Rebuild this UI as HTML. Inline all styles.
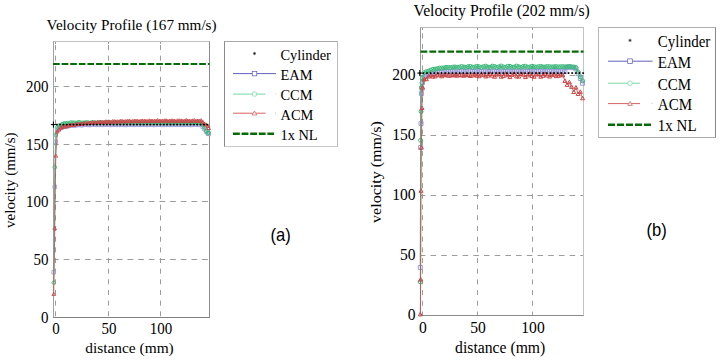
<!DOCTYPE html>
<html><head><meta charset="utf-8"><style>
html,body{margin:0;padding:0;background:#fff;width:720px;height:360px;overflow:hidden}
svg{display:block}
text{font-family:"Liberation Serif",serif;fill:#000}
text.sans{font-family:"Liberation Sans",sans-serif}
</style></head><body>
<svg width="720" height="360" viewBox="0 0 720 360">
<rect width="720" height="360" fill="#fff"/>
<line x1="55.5" y1="41.5" x2="55.5" y2="317.5" stroke="#9c9c9c" stroke-width="1" stroke-dasharray="5 5.65" stroke-dashoffset="7.15"/>
<line x1="108.5" y1="41.5" x2="108.5" y2="317.5" stroke="#9c9c9c" stroke-width="1" stroke-dasharray="5 5.65" stroke-dashoffset="7.15"/>
<line x1="160.5" y1="41.5" x2="160.5" y2="317.5" stroke="#9c9c9c" stroke-width="1" stroke-dasharray="5 5.65" stroke-dashoffset="7.15"/>
<line x1="55.5" y1="41.5" x2="55.5" y2="44.0" stroke="#9c9c9c" stroke-width="1"/>
<line x1="108.5" y1="41.5" x2="108.5" y2="44.0" stroke="#9c9c9c" stroke-width="1"/>
<line x1="160.5" y1="41.5" x2="160.5" y2="44.0" stroke="#9c9c9c" stroke-width="1"/>
<line x1="53.5" y1="317.5" x2="209.5" y2="317.5" stroke="#9c9c9c" stroke-width="1" stroke-dasharray="5.8 4.85" stroke-dashoffset="0.55"/>
<line x1="53.5" y1="259.5" x2="209.5" y2="259.5" stroke="#9c9c9c" stroke-width="1" stroke-dasharray="5.8 4.85" stroke-dashoffset="0.55"/>
<line x1="53.5" y1="201.5" x2="209.5" y2="201.5" stroke="#9c9c9c" stroke-width="1" stroke-dasharray="5.8 4.85" stroke-dashoffset="0.55"/>
<line x1="53.5" y1="144.5" x2="209.5" y2="144.5" stroke="#9c9c9c" stroke-width="1" stroke-dasharray="5.8 4.85" stroke-dashoffset="0.55"/>
<line x1="53.5" y1="86.5" x2="209.5" y2="86.5" stroke="#9c9c9c" stroke-width="1" stroke-dasharray="5.8 4.85" stroke-dashoffset="0.55"/>
<line x1="53.0" y1="41.5" x2="210.0" y2="41.5" stroke="#c0c0c0"/>
<line x1="53.0" y1="317.5" x2="210.0" y2="317.5" stroke="#7f7f7f"/>
<line x1="53.5" y1="41.5" x2="53.5" y2="317.5" stroke="#a0a0a0"/>
<line x1="209.5" y1="41.5" x2="209.5" y2="317.5" stroke="#8a8a8a"/>
<line x1="53.05" y1="64.0" x2="209.5" y2="64.0" stroke="#066a06" stroke-width="2.2" stroke-dasharray="6.6 2.0"/>
<polyline points="53.71,272.22 54.75,186.88 55.8,141.9 57.37,129.36 59.04,128.6 60.71,127.96 62.38,127.21 64.06,126.42 65.73,126.54 67.4,126.14 69.07,125.83 70.74,125.39 72.42,125.23 74.09,125.57 75.76,125.1 77.43,124.97 79.1,124.77 80.78,124.97 82.45,125.12 84.12,124.59 85.79,124.69 87.46,124.66 89.14,124.94 90.81,124.77 92.48,124.36 94.15,124.71 95.82,124.7 97.5,124.85 99.17,124.48 100.84,124.39 102.51,124.84 104.18,124.67 105.86,124.69 107.53,124.34 109.2,124.6 110.87,124.88 112.54,124.54 114.22,124.55 115.89,124.38 117.56,124.82 119.23,124.77 120.9,124.4 122.58,124.55 124.25,124.54 125.92,124.91 127.59,124.53 129.26,124.37 130.94,124.66 132.61,124.67 134.28,124.82 135.95,124.32 137.62,124.5 139.3,124.78 140.97,124.67 142.64,124.64 144.31,124.27 145.98,124.74 147.66,124.78 149.33,124.55 151,124.5 152.67,124.4 154.34,124.91 156.02,124.63 157.69,124.45 159.36,124.51 161.03,124.6 162.7,124.92 164.38,124.4 166.05,124.47 167.72,124.62 169.39,124.73 171.06,124.75 172.74,124.26 174.41,124.63 176.08,124.72 177.75,124.72 179.42,124.54 181.1,124.3 182.77,124.83 184.44,124.69 186.11,124.6 187.78,124.42 189.46,124.5 191.13,124.94 192.8,124.52 194.47,124.51 196.14,124.45 197.82,124.72 199.49,124.85 201.16,124.48 202.83,126.9 204.5,129.15 206.18,131.61 207.85,133.62 208.68,133.83" fill="none" stroke="#a4a4dc" stroke-width="0.8"/>
<path d="M51.91,270.42h3.6v3.6h-3.6zM52.95,185.08h3.6v3.6h-3.6zM54,140.1h3.6v3.6h-3.6zM55.57,127.56h3.6v3.6h-3.6zM57.24,126.8h3.6v3.6h-3.6zM58.91,126.16h3.6v3.6h-3.6zM60.58,125.41h3.6v3.6h-3.6zM62.26,124.62h3.6v3.6h-3.6zM63.93,124.74h3.6v3.6h-3.6zM65.6,124.34h3.6v3.6h-3.6zM67.27,124.03h3.6v3.6h-3.6zM68.94,123.59h3.6v3.6h-3.6zM70.62,123.43h3.6v3.6h-3.6zM72.29,123.77h3.6v3.6h-3.6zM73.96,123.3h3.6v3.6h-3.6zM75.63,123.17h3.6v3.6h-3.6zM77.3,122.97h3.6v3.6h-3.6zM78.98,123.17h3.6v3.6h-3.6zM80.65,123.32h3.6v3.6h-3.6zM82.32,122.79h3.6v3.6h-3.6zM83.99,122.89h3.6v3.6h-3.6zM85.66,122.86h3.6v3.6h-3.6zM87.34,123.14h3.6v3.6h-3.6zM89.01,122.97h3.6v3.6h-3.6zM90.68,122.56h3.6v3.6h-3.6zM92.35,122.91h3.6v3.6h-3.6zM94.02,122.9h3.6v3.6h-3.6zM95.7,123.05h3.6v3.6h-3.6zM97.37,122.68h3.6v3.6h-3.6zM99.04,122.59h3.6v3.6h-3.6zM100.71,123.04h3.6v3.6h-3.6zM102.38,122.87h3.6v3.6h-3.6zM104.06,122.89h3.6v3.6h-3.6zM105.73,122.54h3.6v3.6h-3.6zM107.4,122.8h3.6v3.6h-3.6zM109.07,123.08h3.6v3.6h-3.6zM110.74,122.74h3.6v3.6h-3.6zM112.42,122.75h3.6v3.6h-3.6zM114.09,122.58h3.6v3.6h-3.6zM115.76,123.02h3.6v3.6h-3.6zM117.43,122.97h3.6v3.6h-3.6zM119.1,122.6h3.6v3.6h-3.6zM120.78,122.75h3.6v3.6h-3.6zM122.45,122.74h3.6v3.6h-3.6zM124.12,123.11h3.6v3.6h-3.6zM125.79,122.73h3.6v3.6h-3.6zM127.46,122.57h3.6v3.6h-3.6zM129.14,122.86h3.6v3.6h-3.6zM130.81,122.87h3.6v3.6h-3.6zM132.48,123.02h3.6v3.6h-3.6zM134.15,122.52h3.6v3.6h-3.6zM135.82,122.7h3.6v3.6h-3.6zM137.5,122.98h3.6v3.6h-3.6zM139.17,122.87h3.6v3.6h-3.6zM140.84,122.84h3.6v3.6h-3.6zM142.51,122.47h3.6v3.6h-3.6zM144.18,122.94h3.6v3.6h-3.6zM145.86,122.98h3.6v3.6h-3.6zM147.53,122.75h3.6v3.6h-3.6zM149.2,122.7h3.6v3.6h-3.6zM150.87,122.6h3.6v3.6h-3.6zM152.54,123.11h3.6v3.6h-3.6zM154.22,122.83h3.6v3.6h-3.6zM155.89,122.65h3.6v3.6h-3.6zM157.56,122.71h3.6v3.6h-3.6zM159.23,122.8h3.6v3.6h-3.6zM160.9,123.12h3.6v3.6h-3.6zM162.58,122.6h3.6v3.6h-3.6zM164.25,122.67h3.6v3.6h-3.6zM165.92,122.82h3.6v3.6h-3.6zM167.59,122.93h3.6v3.6h-3.6zM169.26,122.95h3.6v3.6h-3.6zM170.94,122.46h3.6v3.6h-3.6zM172.61,122.83h3.6v3.6h-3.6zM174.28,122.92h3.6v3.6h-3.6zM175.95,122.92h3.6v3.6h-3.6zM177.62,122.74h3.6v3.6h-3.6zM179.3,122.5h3.6v3.6h-3.6zM180.97,123.03h3.6v3.6h-3.6zM182.64,122.89h3.6v3.6h-3.6zM184.31,122.8h3.6v3.6h-3.6zM185.98,122.62h3.6v3.6h-3.6zM187.66,122.7h3.6v3.6h-3.6zM189.33,123.14h3.6v3.6h-3.6zM191,122.72h3.6v3.6h-3.6zM192.67,122.71h3.6v3.6h-3.6zM194.34,122.65h3.6v3.6h-3.6zM196.02,122.92h3.6v3.6h-3.6zM197.69,123.05h3.6v3.6h-3.6zM199.36,122.68h3.6v3.6h-3.6zM201.03,125.1h3.6v3.6h-3.6zM202.7,127.35h3.6v3.6h-3.6zM204.38,129.81h3.6v3.6h-3.6zM206.05,131.82h3.6v3.6h-3.6zM206.88,132.03h3.6v3.6h-3.6z" fill="none" stroke="#a4a4dc" stroke-width="0.9"/>
<polyline points="53.71,282.6 54.75,167.27 55.8,134.98 57.37,127.25 59.04,125.63 60.71,125.22 62.38,124.04 64.06,123.38 65.73,123.2 67.4,123.14 69.07,123.32 70.74,122.51 72.42,122.63 74.09,122.8 75.76,122.89 77.43,122.81 79.1,122.2 80.78,122.77 82.45,122.82 84.12,122.76 85.79,122.51 87.46,122.3 89.14,123.01 90.81,122.71 92.48,122.59 94.15,122.4 95.82,122.59 97.5,123.08 99.17,122.47 100.84,122.51 102.51,122.49 104.18,122.85 105.86,122.91 107.53,122.25 109.2,122.61 110.87,122.66 112.54,122.93 114.22,122.59 115.89,122.23 117.56,122.84 119.23,122.74 120.9,122.81 122.58,122.34 124.25,122.45 125.92,123.02 127.59,122.63 129.26,122.62 130.94,122.3 132.61,122.78 134.28,122.98 135.95,122.42 137.62,122.55 139.3,122.46 140.97,123 142.64,122.72 144.31,122.29 145.98,122.65 147.66,122.67 149.33,123 151,122.4 152.67,122.38 154.34,122.84 156.02,122.74 157.69,122.8 159.36,122.22 161.03,122.65 162.7,122.94 164.38,122.63 166.05,122.58 167.72,122.28 169.39,122.96 171.06,122.82 172.74,122.46 174.41,122.51 176.08,122.52 177.75,123.09 179.42,122.53 181.1,122.4 182.77,122.62 184.44,122.74 186.11,122.97 187.78,122.26 189.46,122.54 191.13,122.78 192.8,122.8 194.47,122.7 196.14,122.18 197.82,122.83 199.49,122.82 201.16,122.85 202.83,125.21 204.5,127.69 206.18,130.97 207.85,133.16 208.68,132.67" fill="none" stroke="#40b878" stroke-width="0.8"/>
<path d="M51.91,282.6a1.8,1.8 0 1,0 3.6,0a1.8,1.8 0 1,0 -3.6,0M52.95,167.27a1.8,1.8 0 1,0 3.6,0a1.8,1.8 0 1,0 -3.6,0M54,134.98a1.8,1.8 0 1,0 3.6,0a1.8,1.8 0 1,0 -3.6,0M55.57,127.25a1.8,1.8 0 1,0 3.6,0a1.8,1.8 0 1,0 -3.6,0M57.24,125.63a1.8,1.8 0 1,0 3.6,0a1.8,1.8 0 1,0 -3.6,0M58.91,125.22a1.8,1.8 0 1,0 3.6,0a1.8,1.8 0 1,0 -3.6,0M60.58,124.04a1.8,1.8 0 1,0 3.6,0a1.8,1.8 0 1,0 -3.6,0M62.26,123.38a1.8,1.8 0 1,0 3.6,0a1.8,1.8 0 1,0 -3.6,0M63.93,123.2a1.8,1.8 0 1,0 3.6,0a1.8,1.8 0 1,0 -3.6,0M65.6,123.14a1.8,1.8 0 1,0 3.6,0a1.8,1.8 0 1,0 -3.6,0M67.27,123.32a1.8,1.8 0 1,0 3.6,0a1.8,1.8 0 1,0 -3.6,0M68.94,122.51a1.8,1.8 0 1,0 3.6,0a1.8,1.8 0 1,0 -3.6,0M70.62,122.63a1.8,1.8 0 1,0 3.6,0a1.8,1.8 0 1,0 -3.6,0M72.29,122.8a1.8,1.8 0 1,0 3.6,0a1.8,1.8 0 1,0 -3.6,0M73.96,122.89a1.8,1.8 0 1,0 3.6,0a1.8,1.8 0 1,0 -3.6,0M75.63,122.81a1.8,1.8 0 1,0 3.6,0a1.8,1.8 0 1,0 -3.6,0M77.3,122.2a1.8,1.8 0 1,0 3.6,0a1.8,1.8 0 1,0 -3.6,0M78.98,122.77a1.8,1.8 0 1,0 3.6,0a1.8,1.8 0 1,0 -3.6,0M80.65,122.82a1.8,1.8 0 1,0 3.6,0a1.8,1.8 0 1,0 -3.6,0M82.32,122.76a1.8,1.8 0 1,0 3.6,0a1.8,1.8 0 1,0 -3.6,0M83.99,122.51a1.8,1.8 0 1,0 3.6,0a1.8,1.8 0 1,0 -3.6,0M85.66,122.3a1.8,1.8 0 1,0 3.6,0a1.8,1.8 0 1,0 -3.6,0M87.34,123.01a1.8,1.8 0 1,0 3.6,0a1.8,1.8 0 1,0 -3.6,0M89.01,122.71a1.8,1.8 0 1,0 3.6,0a1.8,1.8 0 1,0 -3.6,0M90.68,122.59a1.8,1.8 0 1,0 3.6,0a1.8,1.8 0 1,0 -3.6,0M92.35,122.4a1.8,1.8 0 1,0 3.6,0a1.8,1.8 0 1,0 -3.6,0M94.02,122.59a1.8,1.8 0 1,0 3.6,0a1.8,1.8 0 1,0 -3.6,0M95.7,123.08a1.8,1.8 0 1,0 3.6,0a1.8,1.8 0 1,0 -3.6,0M97.37,122.47a1.8,1.8 0 1,0 3.6,0a1.8,1.8 0 1,0 -3.6,0M99.04,122.51a1.8,1.8 0 1,0 3.6,0a1.8,1.8 0 1,0 -3.6,0M100.71,122.49a1.8,1.8 0 1,0 3.6,0a1.8,1.8 0 1,0 -3.6,0M102.38,122.85a1.8,1.8 0 1,0 3.6,0a1.8,1.8 0 1,0 -3.6,0M104.06,122.91a1.8,1.8 0 1,0 3.6,0a1.8,1.8 0 1,0 -3.6,0M105.73,122.25a1.8,1.8 0 1,0 3.6,0a1.8,1.8 0 1,0 -3.6,0M107.4,122.61a1.8,1.8 0 1,0 3.6,0a1.8,1.8 0 1,0 -3.6,0M109.07,122.66a1.8,1.8 0 1,0 3.6,0a1.8,1.8 0 1,0 -3.6,0M110.74,122.93a1.8,1.8 0 1,0 3.6,0a1.8,1.8 0 1,0 -3.6,0M112.42,122.59a1.8,1.8 0 1,0 3.6,0a1.8,1.8 0 1,0 -3.6,0M114.09,122.23a1.8,1.8 0 1,0 3.6,0a1.8,1.8 0 1,0 -3.6,0M115.76,122.84a1.8,1.8 0 1,0 3.6,0a1.8,1.8 0 1,0 -3.6,0M117.43,122.74a1.8,1.8 0 1,0 3.6,0a1.8,1.8 0 1,0 -3.6,0M119.1,122.81a1.8,1.8 0 1,0 3.6,0a1.8,1.8 0 1,0 -3.6,0M120.78,122.34a1.8,1.8 0 1,0 3.6,0a1.8,1.8 0 1,0 -3.6,0M122.45,122.45a1.8,1.8 0 1,0 3.6,0a1.8,1.8 0 1,0 -3.6,0M124.12,123.02a1.8,1.8 0 1,0 3.6,0a1.8,1.8 0 1,0 -3.6,0M125.79,122.63a1.8,1.8 0 1,0 3.6,0a1.8,1.8 0 1,0 -3.6,0M127.46,122.62a1.8,1.8 0 1,0 3.6,0a1.8,1.8 0 1,0 -3.6,0M129.14,122.3a1.8,1.8 0 1,0 3.6,0a1.8,1.8 0 1,0 -3.6,0M130.81,122.78a1.8,1.8 0 1,0 3.6,0a1.8,1.8 0 1,0 -3.6,0M132.48,122.98a1.8,1.8 0 1,0 3.6,0a1.8,1.8 0 1,0 -3.6,0M134.15,122.42a1.8,1.8 0 1,0 3.6,0a1.8,1.8 0 1,0 -3.6,0M135.82,122.55a1.8,1.8 0 1,0 3.6,0a1.8,1.8 0 1,0 -3.6,0M137.5,122.46a1.8,1.8 0 1,0 3.6,0a1.8,1.8 0 1,0 -3.6,0M139.17,123a1.8,1.8 0 1,0 3.6,0a1.8,1.8 0 1,0 -3.6,0M140.84,122.72a1.8,1.8 0 1,0 3.6,0a1.8,1.8 0 1,0 -3.6,0M142.51,122.29a1.8,1.8 0 1,0 3.6,0a1.8,1.8 0 1,0 -3.6,0M144.18,122.65a1.8,1.8 0 1,0 3.6,0a1.8,1.8 0 1,0 -3.6,0M145.86,122.67a1.8,1.8 0 1,0 3.6,0a1.8,1.8 0 1,0 -3.6,0M147.53,123a1.8,1.8 0 1,0 3.6,0a1.8,1.8 0 1,0 -3.6,0M149.2,122.4a1.8,1.8 0 1,0 3.6,0a1.8,1.8 0 1,0 -3.6,0M150.87,122.38a1.8,1.8 0 1,0 3.6,0a1.8,1.8 0 1,0 -3.6,0M152.54,122.84a1.8,1.8 0 1,0 3.6,0a1.8,1.8 0 1,0 -3.6,0M154.22,122.74a1.8,1.8 0 1,0 3.6,0a1.8,1.8 0 1,0 -3.6,0M155.89,122.8a1.8,1.8 0 1,0 3.6,0a1.8,1.8 0 1,0 -3.6,0M157.56,122.22a1.8,1.8 0 1,0 3.6,0a1.8,1.8 0 1,0 -3.6,0M159.23,122.65a1.8,1.8 0 1,0 3.6,0a1.8,1.8 0 1,0 -3.6,0M160.9,122.94a1.8,1.8 0 1,0 3.6,0a1.8,1.8 0 1,0 -3.6,0M162.58,122.63a1.8,1.8 0 1,0 3.6,0a1.8,1.8 0 1,0 -3.6,0M164.25,122.58a1.8,1.8 0 1,0 3.6,0a1.8,1.8 0 1,0 -3.6,0M165.92,122.28a1.8,1.8 0 1,0 3.6,0a1.8,1.8 0 1,0 -3.6,0M167.59,122.96a1.8,1.8 0 1,0 3.6,0a1.8,1.8 0 1,0 -3.6,0M169.26,122.82a1.8,1.8 0 1,0 3.6,0a1.8,1.8 0 1,0 -3.6,0M170.94,122.46a1.8,1.8 0 1,0 3.6,0a1.8,1.8 0 1,0 -3.6,0M172.61,122.51a1.8,1.8 0 1,0 3.6,0a1.8,1.8 0 1,0 -3.6,0M174.28,122.52a1.8,1.8 0 1,0 3.6,0a1.8,1.8 0 1,0 -3.6,0M175.95,123.09a1.8,1.8 0 1,0 3.6,0a1.8,1.8 0 1,0 -3.6,0M177.62,122.53a1.8,1.8 0 1,0 3.6,0a1.8,1.8 0 1,0 -3.6,0M179.3,122.4a1.8,1.8 0 1,0 3.6,0a1.8,1.8 0 1,0 -3.6,0M180.97,122.62a1.8,1.8 0 1,0 3.6,0a1.8,1.8 0 1,0 -3.6,0M182.64,122.74a1.8,1.8 0 1,0 3.6,0a1.8,1.8 0 1,0 -3.6,0M184.31,122.97a1.8,1.8 0 1,0 3.6,0a1.8,1.8 0 1,0 -3.6,0M185.98,122.26a1.8,1.8 0 1,0 3.6,0a1.8,1.8 0 1,0 -3.6,0M187.66,122.54a1.8,1.8 0 1,0 3.6,0a1.8,1.8 0 1,0 -3.6,0M189.33,122.78a1.8,1.8 0 1,0 3.6,0a1.8,1.8 0 1,0 -3.6,0M191,122.8a1.8,1.8 0 1,0 3.6,0a1.8,1.8 0 1,0 -3.6,0M192.67,122.7a1.8,1.8 0 1,0 3.6,0a1.8,1.8 0 1,0 -3.6,0M194.34,122.18a1.8,1.8 0 1,0 3.6,0a1.8,1.8 0 1,0 -3.6,0M196.02,122.83a1.8,1.8 0 1,0 3.6,0a1.8,1.8 0 1,0 -3.6,0M197.69,122.82a1.8,1.8 0 1,0 3.6,0a1.8,1.8 0 1,0 -3.6,0M199.36,122.85a1.8,1.8 0 1,0 3.6,0a1.8,1.8 0 1,0 -3.6,0M201.03,125.21a1.8,1.8 0 1,0 3.6,0a1.8,1.8 0 1,0 -3.6,0M202.7,127.69a1.8,1.8 0 1,0 3.6,0a1.8,1.8 0 1,0 -3.6,0M204.38,130.97a1.8,1.8 0 1,0 3.6,0a1.8,1.8 0 1,0 -3.6,0M206.05,133.16a1.8,1.8 0 1,0 3.6,0a1.8,1.8 0 1,0 -3.6,0M206.88,132.67a1.8,1.8 0 1,0 3.6,0a1.8,1.8 0 1,0 -3.6,0" fill="none" stroke="#40b878" stroke-width="0.9"/>
<polyline points="53.71,294.13 54.75,228.4 55.8,155.74 57.37,131.51 59.04,129.72 60.71,127.86 62.38,127.13 64.06,126.54 65.73,126.49 67.4,126.15 69.07,125.17 70.74,125.22 72.42,124.97 74.09,124.99 75.76,124.38 77.43,123.81 79.1,124.19 80.78,123.88 82.45,123.77 84.12,123.1 85.79,123.07 87.46,123.45 89.14,122.93 90.81,122.78 92.48,122.31 94.15,122.69 95.82,122.75 97.5,122.11 99.17,122.12 100.84,121.94 102.51,122.41 104.18,122.02 105.86,121.53 107.53,121.8 109.2,121.75 110.87,122.02 112.54,121.35 114.22,121.29 115.89,121.68 117.56,121.54 119.23,121.55 120.9,120.92 122.58,121.33 124.25,121.55 125.92,121.24 127.59,121.13 129.26,120.8 130.94,121.46 132.61,121.27 134.28,120.91 135.95,120.92 137.62,120.91 139.3,121.46 140.97,120.87 142.64,120.74 144.31,120.92 145.98,121.05 147.66,121.25 149.33,120.52 151,120.8 152.67,121 154.34,121.04 156.02,120.9 157.69,120.39 159.36,121.02 161.03,120.99 162.7,120.87 164.38,120.62 166.05,120.52 167.72,121.21 169.39,120.8 171.06,120.68 172.74,120.55 174.41,120.79 176.08,121.18 177.75,120.51 179.42,120.63 181.1,120.65 182.77,120.99 184.44,120.93 186.11,120.31 187.78,120.76 189.46,120.8 191.13,120.99 192.8,120.6 194.47,120.35 196.14,120.99 197.82,120.8 199.49,120.82 201.16,120.47 202.83,121.98 204.5,123.77 206.18,124.6 207.85,125.89 208.68,128.06" fill="none" stroke="#c84a4a" stroke-width="0.8"/>
<path d="M53.71,292.33L55.51,295.57L51.91,295.57ZM54.75,226.6L56.55,229.84L52.95,229.84ZM55.8,153.94L57.6,157.18L54,157.18ZM57.37,129.71L59.17,132.95L55.57,132.95ZM59.04,127.92L60.84,131.16L57.24,131.16ZM60.71,126.06L62.51,129.3L58.91,129.3ZM62.38,125.33L64.18,128.57L60.58,128.57ZM64.06,124.74L65.86,127.98L62.26,127.98ZM65.73,124.69L67.53,127.93L63.93,127.93ZM67.4,124.35L69.2,127.59L65.6,127.59ZM69.07,123.37L70.87,126.61L67.27,126.61ZM70.74,123.42L72.54,126.66L68.94,126.66ZM72.42,123.17L74.22,126.41L70.62,126.41ZM74.09,123.19L75.89,126.43L72.29,126.43ZM75.76,122.58L77.56,125.82L73.96,125.82ZM77.43,122.01L79.23,125.25L75.63,125.25ZM79.1,122.39L80.9,125.63L77.3,125.63ZM80.78,122.08L82.58,125.32L78.98,125.32ZM82.45,121.97L84.25,125.21L80.65,125.21ZM84.12,121.3L85.92,124.54L82.32,124.54ZM85.79,121.27L87.59,124.51L83.99,124.51ZM87.46,121.65L89.26,124.89L85.66,124.89ZM89.14,121.13L90.94,124.37L87.34,124.37ZM90.81,120.98L92.61,124.22L89.01,124.22ZM92.48,120.51L94.28,123.75L90.68,123.75ZM94.15,120.89L95.95,124.13L92.35,124.13ZM95.82,120.95L97.62,124.19L94.02,124.19ZM97.5,120.31L99.3,123.55L95.7,123.55ZM99.17,120.32L100.97,123.56L97.37,123.56ZM100.84,120.14L102.64,123.38L99.04,123.38ZM102.51,120.61L104.31,123.85L100.71,123.85ZM104.18,120.22L105.98,123.46L102.38,123.46ZM105.86,119.73L107.66,122.97L104.06,122.97ZM107.53,120L109.33,123.24L105.73,123.24ZM109.2,119.95L111,123.19L107.4,123.19ZM110.87,120.22L112.67,123.46L109.07,123.46ZM112.54,119.55L114.34,122.79L110.74,122.79ZM114.22,119.49L116.02,122.73L112.42,122.73ZM115.89,119.88L117.69,123.12L114.09,123.12ZM117.56,119.74L119.36,122.98L115.76,122.98ZM119.23,119.75L121.03,122.99L117.43,122.99ZM120.9,119.12L122.7,122.36L119.1,122.36ZM122.58,119.53L124.38,122.77L120.78,122.77ZM124.25,119.75L126.05,122.99L122.45,122.99ZM125.92,119.44L127.72,122.68L124.12,122.68ZM127.59,119.33L129.39,122.57L125.79,122.57ZM129.26,119L131.06,122.24L127.46,122.24ZM130.94,119.66L132.74,122.9L129.14,122.9ZM132.61,119.47L134.41,122.71L130.81,122.71ZM134.28,119.11L136.08,122.35L132.48,122.35ZM135.95,119.12L137.75,122.36L134.15,122.36ZM137.62,119.11L139.42,122.35L135.82,122.35ZM139.3,119.66L141.1,122.9L137.5,122.9ZM140.97,119.07L142.77,122.31L139.17,122.31ZM142.64,118.94L144.44,122.18L140.84,122.18ZM144.31,119.12L146.11,122.36L142.51,122.36ZM145.98,119.25L147.78,122.49L144.18,122.49ZM147.66,119.45L149.46,122.69L145.86,122.69ZM149.33,118.72L151.13,121.96L147.53,121.96ZM151,119L152.8,122.24L149.2,122.24ZM152.67,119.2L154.47,122.44L150.87,122.44ZM154.34,119.24L156.14,122.48L152.54,122.48ZM156.02,119.1L157.82,122.34L154.22,122.34ZM157.69,118.59L159.49,121.83L155.89,121.83ZM159.36,119.22L161.16,122.46L157.56,122.46ZM161.03,119.19L162.83,122.43L159.23,122.43ZM162.7,119.07L164.5,122.31L160.9,122.31ZM164.38,118.82L166.18,122.06L162.58,122.06ZM166.05,118.72L167.85,121.96L164.25,121.96ZM167.72,119.41L169.52,122.65L165.92,122.65ZM169.39,119L171.19,122.24L167.59,122.24ZM171.06,118.88L172.86,122.12L169.26,122.12ZM172.74,118.75L174.54,121.99L170.94,121.99ZM174.41,118.99L176.21,122.23L172.61,122.23ZM176.08,119.38L177.88,122.62L174.28,122.62ZM177.75,118.71L179.55,121.95L175.95,121.95ZM179.42,118.83L181.22,122.07L177.62,122.07ZM181.1,118.85L182.9,122.09L179.3,122.09ZM182.77,119.19L184.57,122.43L180.97,122.43ZM184.44,119.13L186.24,122.37L182.64,122.37ZM186.11,118.51L187.91,121.75L184.31,121.75ZM187.78,118.96L189.58,122.2L185.98,122.2ZM189.46,119L191.26,122.24L187.66,122.24ZM191.13,119.19L192.93,122.43L189.33,122.43ZM192.8,118.8L194.6,122.04L191,122.04ZM194.47,118.55L196.27,121.79L192.67,121.79ZM196.14,119.19L197.94,122.43L194.34,122.43ZM197.82,119L199.62,122.24L196.02,122.24ZM199.49,119.02L201.29,122.26L197.69,122.26ZM201.16,118.67L202.96,121.91L199.36,121.91ZM202.83,120.18L204.63,123.42L201.03,123.42ZM204.5,121.97L206.3,125.21L202.7,125.21ZM206.18,122.8L207.98,126.04L204.38,126.04ZM207.85,124.09L209.65,127.33L206.05,127.33ZM208.68,126.26L210.48,129.5L206.88,129.5Z" fill="none" stroke="#c84a4a" stroke-width="0.9"/>
<path d="M52.4,124.6h2M53.4,123.7v1.8M55.74,124.6h2M56.74,123.7v1.8M59.08,124.6h2M60.08,123.7v1.8M62.43,124.6h2M63.43,123.7v1.8M65.77,124.6h2M66.77,123.7v1.8M69.12,124.6h2M70.12,123.7v1.8M72.46,124.6h2M73.46,123.7v1.8M75.8,124.6h2M76.8,123.7v1.8M79.15,124.6h2M80.15,123.7v1.8M82.49,124.6h2M83.49,123.7v1.8M85.84,124.6h2M86.84,123.7v1.8M89.18,124.6h2M90.18,123.7v1.8M92.52,124.6h2M93.52,123.7v1.8M95.87,124.6h2M96.87,123.7v1.8M99.21,124.6h2M100.21,123.7v1.8M102.56,124.6h2M103.56,123.7v1.8M105.9,124.6h2M106.9,123.7v1.8M109.24,124.6h2M110.24,123.7v1.8M112.59,124.6h2M113.59,123.7v1.8M115.93,124.6h2M116.93,123.7v1.8M119.28,124.6h2M120.28,123.7v1.8M122.62,124.6h2M123.62,123.7v1.8M125.96,124.6h2M126.96,123.7v1.8M129.31,124.6h2M130.31,123.7v1.8M132.65,124.6h2M133.65,123.7v1.8M136,124.6h2M137,123.7v1.8M139.34,124.6h2M140.34,123.7v1.8M142.68,124.6h2M143.68,123.7v1.8M146.03,124.6h2M147.03,123.7v1.8M149.37,124.6h2M150.37,123.7v1.8M152.72,124.6h2M153.72,123.7v1.8M156.06,124.6h2M157.06,123.7v1.8M159.4,124.6h2M160.4,123.7v1.8M162.75,124.6h2M163.75,123.7v1.8M166.09,124.6h2M167.09,123.7v1.8M169.44,124.6h2M170.44,123.7v1.8M172.78,124.6h2M173.78,123.7v1.8M176.12,124.6h2M177.12,123.7v1.8M179.47,124.6h2M180.47,123.7v1.8M182.81,124.6h2M183.81,123.7v1.8M186.16,124.6h2M187.16,123.7v1.8M189.5,124.6h2M190.5,123.7v1.8M192.84,124.6h2M193.84,123.7v1.8M196.19,124.6h2M197.19,123.7v1.8M199.53,124.6h2M200.53,123.7v1.8M202.88,124.6h2M203.88,123.7v1.8M206.22,124.6h2M207.22,123.7v1.8" stroke="#000" stroke-width="1" fill="none"/>
<path d="M50.9,124.6h5M53.4,121.6v6" stroke="#000" stroke-width="1"/>
<text transform="translate(48.5,322.6) scale(1,1.06)" text-anchor="end" font-size="15">0</text>
<text transform="translate(48.5,264.6) scale(1,1.06)" text-anchor="end" font-size="15">50</text>
<text transform="translate(48.5,206.6) scale(1,1.06)" text-anchor="end" font-size="15">100</text>
<text transform="translate(48.5,149.6) scale(1,1.06)" text-anchor="end" font-size="15">150</text>
<text transform="translate(48.5,91.6) scale(1,1.06)" text-anchor="end" font-size="15">200</text>
<text transform="translate(56,333.8) scale(1,1.06)" text-anchor="middle" font-size="15">0</text>
<text transform="translate(109,333.8) scale(1,1.06)" text-anchor="middle" font-size="15">50</text>
<text transform="translate(161,333.8) scale(1,1.06)" text-anchor="middle" font-size="15">100</text>
<text x="46.6" y="30" font-size="15.2">Velocity Profile (167 mm/s)</text>
<text x="129.5" y="353.3" text-anchor="middle" font-size="15.4">distance (mm)</text>
<text transform="translate(14.9,180.2) rotate(-90) scale(1.0,1)" text-anchor="middle" font-size="15.0">velocity (mm/s)</text>
<rect x="224.5" y="41.5" width="113.0" height="105.0" fill="#fff" stroke="none"/>
<line x1="224.0" y1="41.5" x2="338.0" y2="41.5" stroke="#a8a8a8"/>
<line x1="224.0" y1="146.5" x2="338.0" y2="146.5" stroke="#c8c8c8"/>
<line x1="224.5" y1="41.5" x2="224.5" y2="146.5" stroke="#8a8a8a"/>
<line x1="337.5" y1="41.5" x2="337.5" y2="146.5" stroke="#bcbcbc"/>
<path d="M253.1,53.5h2.8M254.5,51.9v3.2M253.5,52.5l2,2M255.5,52.5l-2,2" stroke="#222" stroke-width="0.7"/>
<text transform="translate(280.5,59.8) scale(1,1.08)" font-size="14.4">Cylinder</text>
<line x1="233" y1="73.6" x2="276" y2="73.6" stroke="#6262bc" stroke-width="1"/>
<rect x="252.25" y="71.35" width="4.5" height="4.5" fill="#fff" stroke="#6262bc" stroke-width="0.75"/>
<text transform="translate(280.5,79.9) scale(1,1.08)" font-size="14.4">EAM</text>
<line x1="233" y1="94.1" x2="265.5" y2="94.1" stroke="#7ad8a4" stroke-width="1"/>
<rect x="275" y="93.6" width="1" height="1" fill="#7ad8a4" opacity="0.5"/>
<circle cx="254.5" cy="94.1" r="2.25" fill="#fff" stroke="#7ad8a4" stroke-width="0.75"/>
<text transform="translate(280.5,100.4) scale(1,1.08)" font-size="14.4">CCM</text>
<line x1="233" y1="113.2" x2="265.5" y2="113.2" stroke="#d86262" stroke-width="1"/>
<rect x="275" y="112.7" width="1" height="1" fill="#d86262" opacity="0.5"/>
<path d="M254.5,110.95L256.75,115.0L252.25,115.0Z" fill="#fff" stroke="#d86262" stroke-width="0.75"/>
<text transform="translate(280.5,119.5) scale(1,1.08)" font-size="14.4">ACM</text>
<line x1="233" y1="133.8" x2="274" y2="133.8" stroke="#066a06" stroke-width="2.4" stroke-dasharray="6.8 1.8"/>
<text transform="translate(280.5,140.1) scale(1,1.08)" font-size="14.4">1x NL</text>
<text class="sans" transform="translate(270.5,241.0) scale(1,1.08)" font-size="16.6">(a)</text>
<line x1="422.5" y1="27.5" x2="422.5" y2="315.5" stroke="#9c9c9c" stroke-width="1" stroke-dasharray="5 5.7" stroke-dashoffset="-5.8"/>
<line x1="477.5" y1="27.5" x2="477.5" y2="315.5" stroke="#9c9c9c" stroke-width="1" stroke-dasharray="5 5.7" stroke-dashoffset="-5.8"/>
<line x1="532.5" y1="27.5" x2="532.5" y2="315.5" stroke="#9c9c9c" stroke-width="1" stroke-dasharray="5 5.7" stroke-dashoffset="-5.8"/>
<line x1="422.5" y1="27.5" x2="422.5" y2="30.0" stroke="#9c9c9c" stroke-width="1"/>
<line x1="477.5" y1="27.5" x2="477.5" y2="30.0" stroke="#9c9c9c" stroke-width="1"/>
<line x1="532.5" y1="27.5" x2="532.5" y2="30.0" stroke="#9c9c9c" stroke-width="1"/>
<line x1="420.5" y1="315.5" x2="583.5" y2="315.5" stroke="#9c9c9c" stroke-width="1" stroke-dasharray="5.6 5.1" stroke-dashoffset="-10"/>
<line x1="420.5" y1="255.5" x2="583.5" y2="255.5" stroke="#9c9c9c" stroke-width="1" stroke-dasharray="5.6 5.1" stroke-dashoffset="-10"/>
<line x1="420.5" y1="195.5" x2="583.5" y2="195.5" stroke="#9c9c9c" stroke-width="1" stroke-dasharray="5.6 5.1" stroke-dashoffset="-10"/>
<line x1="420.5" y1="135.5" x2="583.5" y2="135.5" stroke="#9c9c9c" stroke-width="1" stroke-dasharray="5.6 5.1" stroke-dashoffset="-10"/>
<line x1="420.5" y1="75.5" x2="583.5" y2="75.5" stroke="#9c9c9c" stroke-width="1" stroke-dasharray="5.6 5.1" stroke-dashoffset="-10"/>
<line x1="420.0" y1="27.5" x2="584.0" y2="27.5" stroke="#b8b8b8"/>
<line x1="420.0" y1="315.5" x2="584.0" y2="315.5" stroke="#8a8a8a"/>
<line x1="420.5" y1="27.5" x2="420.5" y2="315.5" stroke="#999999"/>
<line x1="583.5" y1="27.5" x2="583.5" y2="315.5" stroke="#c4c4c4"/>
<line x1="420.5" y1="51.6" x2="583.5" y2="51.6" stroke="#066a06" stroke-width="2.2" stroke-dasharray="6.8 2.1"/>
<polyline points="420.3,267.5 420.63,147.5 421.07,123.5 421.4,93.5 421.95,88.7 422.5,82.7 424.15,77.13 426.35,76.25 428.55,74.67 430.75,73.61 432.95,73.66 435.15,73.19 437.35,72.1 439.55,72.06 441.75,72.46 443.95,71.8 446.15,71.2 448.35,71.74 450.55,71.88 452.75,71.09 454.95,71.09 457.15,71.73 459.35,71.41 461.55,70.83 463.75,71.29 465.95,71.63 468.15,71.04 470.35,70.91 472.55,71.48 474.75,71.37 476.95,70.89 479.15,71.15 481.35,71.47 483.55,71.11 485.75,70.97 487.95,71.33 490.15,71.3 492.35,71.02 494.55,71.17 496.75,71.31 498.95,71.12 501.15,71.12 503.35,71.28 505.55,71.16 507.75,71.1 509.95,71.29 512.15,71.2 514.35,71.03 516.55,71.25 518.75,71.34 520.95,71.01 523.15,71.07 525.35,71.44 527.55,71.19 529.75,70.87 531.95,71.3 534.15,71.48 536.35,70.93 538.55,70.95 540.75,71.54 542.95,71.28 545.15,70.75 547.35,71.23 549.55,71.61 551.75,70.97 553.95,70.81 556.15,71.53 558.35,71.42 560.55,70.73 562.75,71.1 564.95,71.66 567.15,67.25 569.35,66.9 571.55,67.59 573.75,67.68 575.95,68.9 578.15,73.7 580.35,78.5 582.55,83.3" fill="none" stroke="#9c9cdc" stroke-width="0.8"/>
<path d="M418.3,265.5h4.0v4.0h-4.0zM418.63,145.5h4.0v4.0h-4.0zM419.07,121.5h4.0v4.0h-4.0zM419.4,91.5h4.0v4.0h-4.0zM419.95,86.7h4.0v4.0h-4.0zM420.5,80.7h4.0v4.0h-4.0zM422.15,75.13h4.0v4.0h-4.0zM424.35,74.25h4.0v4.0h-4.0zM426.55,72.67h4.0v4.0h-4.0zM428.75,71.61h4.0v4.0h-4.0zM430.95,71.66h4.0v4.0h-4.0zM433.15,71.19h4.0v4.0h-4.0zM435.35,70.1h4.0v4.0h-4.0zM437.55,70.06h4.0v4.0h-4.0zM439.75,70.46h4.0v4.0h-4.0zM441.95,69.8h4.0v4.0h-4.0zM444.15,69.2h4.0v4.0h-4.0zM446.35,69.74h4.0v4.0h-4.0zM448.55,69.88h4.0v4.0h-4.0zM450.75,69.09h4.0v4.0h-4.0zM452.95,69.09h4.0v4.0h-4.0zM455.15,69.73h4.0v4.0h-4.0zM457.35,69.41h4.0v4.0h-4.0zM459.55,68.83h4.0v4.0h-4.0zM461.75,69.29h4.0v4.0h-4.0zM463.95,69.63h4.0v4.0h-4.0zM466.15,69.04h4.0v4.0h-4.0zM468.35,68.91h4.0v4.0h-4.0zM470.55,69.48h4.0v4.0h-4.0zM472.75,69.37h4.0v4.0h-4.0zM474.95,68.89h4.0v4.0h-4.0zM477.15,69.15h4.0v4.0h-4.0zM479.35,69.47h4.0v4.0h-4.0zM481.55,69.11h4.0v4.0h-4.0zM483.75,68.97h4.0v4.0h-4.0zM485.95,69.33h4.0v4.0h-4.0zM488.15,69.3h4.0v4.0h-4.0zM490.35,69.02h4.0v4.0h-4.0zM492.55,69.17h4.0v4.0h-4.0zM494.75,69.31h4.0v4.0h-4.0zM496.95,69.12h4.0v4.0h-4.0zM499.15,69.12h4.0v4.0h-4.0zM501.35,69.28h4.0v4.0h-4.0zM503.55,69.16h4.0v4.0h-4.0zM505.75,69.1h4.0v4.0h-4.0zM507.95,69.29h4.0v4.0h-4.0zM510.15,69.2h4.0v4.0h-4.0zM512.35,69.03h4.0v4.0h-4.0zM514.55,69.25h4.0v4.0h-4.0zM516.75,69.34h4.0v4.0h-4.0zM518.95,69.01h4.0v4.0h-4.0zM521.15,69.07h4.0v4.0h-4.0zM523.35,69.44h4.0v4.0h-4.0zM525.55,69.19h4.0v4.0h-4.0zM527.75,68.87h4.0v4.0h-4.0zM529.95,69.3h4.0v4.0h-4.0zM532.15,69.48h4.0v4.0h-4.0zM534.35,68.93h4.0v4.0h-4.0zM536.55,68.95h4.0v4.0h-4.0zM538.75,69.54h4.0v4.0h-4.0zM540.95,69.28h4.0v4.0h-4.0zM543.15,68.75h4.0v4.0h-4.0zM545.35,69.23h4.0v4.0h-4.0zM547.55,69.61h4.0v4.0h-4.0zM549.75,68.97h4.0v4.0h-4.0zM551.95,68.81h4.0v4.0h-4.0zM554.15,69.53h4.0v4.0h-4.0zM556.35,69.42h4.0v4.0h-4.0zM558.55,68.73h4.0v4.0h-4.0zM560.75,69.1h4.0v4.0h-4.0zM562.95,69.66h4.0v4.0h-4.0zM565.15,65.25h4.0v4.0h-4.0zM567.35,64.9h4.0v4.0h-4.0zM569.55,65.59h4.0v4.0h-4.0zM571.75,65.68h4.0v4.0h-4.0zM573.95,66.9h4.0v4.0h-4.0zM576.15,71.7h4.0v4.0h-4.0zM578.35,76.5h4.0v4.0h-4.0zM580.55,81.3h4.0v4.0h-4.0z" fill="none" stroke="#9c9cdc" stroke-width="1.0"/>
<polyline points="420.3,281.9 420.63,140.3 421.07,111.5 421.4,87.5 421.95,82.7 422.5,77.9 424.15,72.68 426.35,71.66 428.55,71.17 430.75,70.15 432.95,69.31 435.15,69.12 437.35,68.71 439.55,68.12 441.75,68.02 443.95,67.88 446.15,67.43 448.35,67.41 450.55,67.51 452.75,67.08 454.95,66.92 457.15,67.31 459.35,67.11 461.55,66.57 463.75,66.95 465.95,67.3 468.15,66.63 470.35,66.44 472.55,67.23 474.75,67.07 476.95,66.24 479.15,66.71 481.35,67.4 483.55,66.61 485.75,66.16 487.95,67.15 490.15,67.24 492.35,66.17 494.55,66.47 496.75,67.45 498.95,66.77 501.15,66.03 503.35,66.98 505.55,67.37 507.75,66.29 509.95,66.29 512.15,67.34 514.35,66.96 516.55,66.09 518.75,66.77 520.95,67.35 523.15,66.5 525.35,66.26 527.55,67.14 529.75,67.03 531.95,66.28 534.15,66.65 536.35,67.18 538.55,66.66 540.75,66.39 542.95,66.94 545.15,66.94 547.35,66.49 549.55,66.69 551.75,66.95 553.95,66.67 556.15,66.62 558.35,66.88 560.55,66.73 562.75,66.61 564.95,66.88 567.15,66.79 569.35,66.52 571.55,66.82 573.75,66.98 575.95,67.59 578.15,71.96 580.35,76.83 582.55,80.82" fill="none" stroke="#3cb878" stroke-width="0.8"/>
<path d="M418.3,281.9a2.0,2.0 0 1,0 4.0,0a2.0,2.0 0 1,0 -4.0,0M418.63,140.3a2.0,2.0 0 1,0 4.0,0a2.0,2.0 0 1,0 -4.0,0M419.07,111.5a2.0,2.0 0 1,0 4.0,0a2.0,2.0 0 1,0 -4.0,0M419.4,87.5a2.0,2.0 0 1,0 4.0,0a2.0,2.0 0 1,0 -4.0,0M419.95,82.7a2.0,2.0 0 1,0 4.0,0a2.0,2.0 0 1,0 -4.0,0M420.5,77.9a2.0,2.0 0 1,0 4.0,0a2.0,2.0 0 1,0 -4.0,0M422.15,72.68a2.0,2.0 0 1,0 4.0,0a2.0,2.0 0 1,0 -4.0,0M424.35,71.66a2.0,2.0 0 1,0 4.0,0a2.0,2.0 0 1,0 -4.0,0M426.55,71.17a2.0,2.0 0 1,0 4.0,0a2.0,2.0 0 1,0 -4.0,0M428.75,70.15a2.0,2.0 0 1,0 4.0,0a2.0,2.0 0 1,0 -4.0,0M430.95,69.31a2.0,2.0 0 1,0 4.0,0a2.0,2.0 0 1,0 -4.0,0M433.15,69.12a2.0,2.0 0 1,0 4.0,0a2.0,2.0 0 1,0 -4.0,0M435.35,68.71a2.0,2.0 0 1,0 4.0,0a2.0,2.0 0 1,0 -4.0,0M437.55,68.12a2.0,2.0 0 1,0 4.0,0a2.0,2.0 0 1,0 -4.0,0M439.75,68.02a2.0,2.0 0 1,0 4.0,0a2.0,2.0 0 1,0 -4.0,0M441.95,67.88a2.0,2.0 0 1,0 4.0,0a2.0,2.0 0 1,0 -4.0,0M444.15,67.43a2.0,2.0 0 1,0 4.0,0a2.0,2.0 0 1,0 -4.0,0M446.35,67.41a2.0,2.0 0 1,0 4.0,0a2.0,2.0 0 1,0 -4.0,0M448.55,67.51a2.0,2.0 0 1,0 4.0,0a2.0,2.0 0 1,0 -4.0,0M450.75,67.08a2.0,2.0 0 1,0 4.0,0a2.0,2.0 0 1,0 -4.0,0M452.95,66.92a2.0,2.0 0 1,0 4.0,0a2.0,2.0 0 1,0 -4.0,0M455.15,67.31a2.0,2.0 0 1,0 4.0,0a2.0,2.0 0 1,0 -4.0,0M457.35,67.11a2.0,2.0 0 1,0 4.0,0a2.0,2.0 0 1,0 -4.0,0M459.55,66.57a2.0,2.0 0 1,0 4.0,0a2.0,2.0 0 1,0 -4.0,0M461.75,66.95a2.0,2.0 0 1,0 4.0,0a2.0,2.0 0 1,0 -4.0,0M463.95,67.3a2.0,2.0 0 1,0 4.0,0a2.0,2.0 0 1,0 -4.0,0M466.15,66.63a2.0,2.0 0 1,0 4.0,0a2.0,2.0 0 1,0 -4.0,0M468.35,66.44a2.0,2.0 0 1,0 4.0,0a2.0,2.0 0 1,0 -4.0,0M470.55,67.23a2.0,2.0 0 1,0 4.0,0a2.0,2.0 0 1,0 -4.0,0M472.75,67.07a2.0,2.0 0 1,0 4.0,0a2.0,2.0 0 1,0 -4.0,0M474.95,66.24a2.0,2.0 0 1,0 4.0,0a2.0,2.0 0 1,0 -4.0,0M477.15,66.71a2.0,2.0 0 1,0 4.0,0a2.0,2.0 0 1,0 -4.0,0M479.35,67.4a2.0,2.0 0 1,0 4.0,0a2.0,2.0 0 1,0 -4.0,0M481.55,66.61a2.0,2.0 0 1,0 4.0,0a2.0,2.0 0 1,0 -4.0,0M483.75,66.16a2.0,2.0 0 1,0 4.0,0a2.0,2.0 0 1,0 -4.0,0M485.95,67.15a2.0,2.0 0 1,0 4.0,0a2.0,2.0 0 1,0 -4.0,0M488.15,67.24a2.0,2.0 0 1,0 4.0,0a2.0,2.0 0 1,0 -4.0,0M490.35,66.17a2.0,2.0 0 1,0 4.0,0a2.0,2.0 0 1,0 -4.0,0M492.55,66.47a2.0,2.0 0 1,0 4.0,0a2.0,2.0 0 1,0 -4.0,0M494.75,67.45a2.0,2.0 0 1,0 4.0,0a2.0,2.0 0 1,0 -4.0,0M496.95,66.77a2.0,2.0 0 1,0 4.0,0a2.0,2.0 0 1,0 -4.0,0M499.15,66.03a2.0,2.0 0 1,0 4.0,0a2.0,2.0 0 1,0 -4.0,0M501.35,66.98a2.0,2.0 0 1,0 4.0,0a2.0,2.0 0 1,0 -4.0,0M503.55,67.37a2.0,2.0 0 1,0 4.0,0a2.0,2.0 0 1,0 -4.0,0M505.75,66.29a2.0,2.0 0 1,0 4.0,0a2.0,2.0 0 1,0 -4.0,0M507.95,66.29a2.0,2.0 0 1,0 4.0,0a2.0,2.0 0 1,0 -4.0,0M510.15,67.34a2.0,2.0 0 1,0 4.0,0a2.0,2.0 0 1,0 -4.0,0M512.35,66.96a2.0,2.0 0 1,0 4.0,0a2.0,2.0 0 1,0 -4.0,0M514.55,66.09a2.0,2.0 0 1,0 4.0,0a2.0,2.0 0 1,0 -4.0,0M516.75,66.77a2.0,2.0 0 1,0 4.0,0a2.0,2.0 0 1,0 -4.0,0M518.95,67.35a2.0,2.0 0 1,0 4.0,0a2.0,2.0 0 1,0 -4.0,0M521.15,66.5a2.0,2.0 0 1,0 4.0,0a2.0,2.0 0 1,0 -4.0,0M523.35,66.26a2.0,2.0 0 1,0 4.0,0a2.0,2.0 0 1,0 -4.0,0M525.55,67.14a2.0,2.0 0 1,0 4.0,0a2.0,2.0 0 1,0 -4.0,0M527.75,67.03a2.0,2.0 0 1,0 4.0,0a2.0,2.0 0 1,0 -4.0,0M529.95,66.28a2.0,2.0 0 1,0 4.0,0a2.0,2.0 0 1,0 -4.0,0M532.15,66.65a2.0,2.0 0 1,0 4.0,0a2.0,2.0 0 1,0 -4.0,0M534.35,67.18a2.0,2.0 0 1,0 4.0,0a2.0,2.0 0 1,0 -4.0,0M536.55,66.66a2.0,2.0 0 1,0 4.0,0a2.0,2.0 0 1,0 -4.0,0M538.75,66.39a2.0,2.0 0 1,0 4.0,0a2.0,2.0 0 1,0 -4.0,0M540.95,66.94a2.0,2.0 0 1,0 4.0,0a2.0,2.0 0 1,0 -4.0,0M543.15,66.94a2.0,2.0 0 1,0 4.0,0a2.0,2.0 0 1,0 -4.0,0M545.35,66.49a2.0,2.0 0 1,0 4.0,0a2.0,2.0 0 1,0 -4.0,0M547.55,66.69a2.0,2.0 0 1,0 4.0,0a2.0,2.0 0 1,0 -4.0,0M549.75,66.95a2.0,2.0 0 1,0 4.0,0a2.0,2.0 0 1,0 -4.0,0M551.95,66.67a2.0,2.0 0 1,0 4.0,0a2.0,2.0 0 1,0 -4.0,0M554.15,66.62a2.0,2.0 0 1,0 4.0,0a2.0,2.0 0 1,0 -4.0,0M556.35,66.88a2.0,2.0 0 1,0 4.0,0a2.0,2.0 0 1,0 -4.0,0M558.55,66.73a2.0,2.0 0 1,0 4.0,0a2.0,2.0 0 1,0 -4.0,0M560.75,66.61a2.0,2.0 0 1,0 4.0,0a2.0,2.0 0 1,0 -4.0,0M562.95,66.88a2.0,2.0 0 1,0 4.0,0a2.0,2.0 0 1,0 -4.0,0M565.15,66.79a2.0,2.0 0 1,0 4.0,0a2.0,2.0 0 1,0 -4.0,0M567.35,66.52a2.0,2.0 0 1,0 4.0,0a2.0,2.0 0 1,0 -4.0,0M569.55,66.82a2.0,2.0 0 1,0 4.0,0a2.0,2.0 0 1,0 -4.0,0M571.75,66.98a2.0,2.0 0 1,0 4.0,0a2.0,2.0 0 1,0 -4.0,0M573.95,67.59a2.0,2.0 0 1,0 4.0,0a2.0,2.0 0 1,0 -4.0,0M576.15,71.96a2.0,2.0 0 1,0 4.0,0a2.0,2.0 0 1,0 -4.0,0M578.35,76.83a2.0,2.0 0 1,0 4.0,0a2.0,2.0 0 1,0 -4.0,0M580.55,80.82a2.0,2.0 0 1,0 4.0,0a2.0,2.0 0 1,0 -4.0,0" fill="none" stroke="#3cb878" stroke-width="1.0"/>
<polyline points="420.3,314.3 420.63,279.5 421.07,190.7 421.4,147.5 421.95,107.9 422.5,87.5 424.15,79.25 426.35,79.13 428.55,76.41 430.75,75.08 432.95,76.55 435.15,76.29 437.35,74.58 439.55,75.13 441.75,76.18 443.95,75.18 446.15,74.67 448.35,75.65 450.55,75.56 452.75,74.83 454.95,75.31 457.15,75.57 459.35,74.95 461.55,75.22 463.75,75.68 465.95,74.96 468.15,74.92 470.35,75.87 472.55,75.34 474.75,74.45 476.95,75.57 479.15,76.09 481.35,74.52 483.55,74.61 485.75,76.38 487.95,75.53 490.15,73.9 492.35,75.51 494.55,76.65 496.75,74.45 498.95,74.08 501.15,76.56 503.35,76.01 505.55,73.62 507.75,75.09 509.95,77.02 512.15,74.79 514.35,73.65 516.55,76.33 518.75,76.49 520.95,73.75 523.15,74.59 525.35,76.99 527.55,75.3 529.75,73.57 531.95,75.83 534.15,76.67 536.35,74.22 538.55,74.3 540.75,76.58 542.95,75.67 545.15,73.9 547.35,75.37 549.55,76.44 551.75,74.73 553.95,74.43 556.15,76.03 558.35,75.67 560.55,74.46 562.75,75.25 564.95,80.87 567.15,84.83 569.35,82.19 571.55,86.75 573.75,91.91 575.95,87.47 578.15,93.83 580.35,91.79 582.55,98.15" fill="none" stroke="#c84848" stroke-width="0.8"/>
<path d="M420.3,312.3L422.3,315.9L418.3,315.9ZM420.63,277.5L422.63,281.1L418.63,281.1ZM421.07,188.7L423.07,192.3L419.07,192.3ZM421.4,145.5L423.4,149.1L419.4,149.1ZM421.95,105.9L423.95,109.5L419.95,109.5ZM422.5,85.5L424.5,89.1L420.5,89.1ZM424.15,77.25L426.15,80.85L422.15,80.85ZM426.35,77.13L428.35,80.73L424.35,80.73ZM428.55,74.41L430.55,78.01L426.55,78.01ZM430.75,73.08L432.75,76.68L428.75,76.68ZM432.95,74.55L434.95,78.15L430.95,78.15ZM435.15,74.29L437.15,77.89L433.15,77.89ZM437.35,72.58L439.35,76.18L435.35,76.18ZM439.55,73.13L441.55,76.73L437.55,76.73ZM441.75,74.18L443.75,77.78L439.75,77.78ZM443.95,73.18L445.95,76.78L441.95,76.78ZM446.15,72.67L448.15,76.27L444.15,76.27ZM448.35,73.65L450.35,77.25L446.35,77.25ZM450.55,73.56L452.55,77.16L448.55,77.16ZM452.75,72.83L454.75,76.43L450.75,76.43ZM454.95,73.31L456.95,76.91L452.95,76.91ZM457.15,73.57L459.15,77.17L455.15,77.17ZM459.35,72.95L461.35,76.55L457.35,76.55ZM461.55,73.22L463.55,76.82L459.55,76.82ZM463.75,73.68L465.75,77.28L461.75,77.28ZM465.95,72.96L467.95,76.56L463.95,76.56ZM468.15,72.92L470.15,76.52L466.15,76.52ZM470.35,73.87L472.35,77.47L468.35,77.47ZM472.55,73.34L474.55,76.94L470.55,76.94ZM474.75,72.45L476.75,76.05L472.75,76.05ZM476.95,73.57L478.95,77.17L474.95,77.17ZM479.15,74.09L481.15,77.69L477.15,77.69ZM481.35,72.52L483.35,76.12L479.35,76.12ZM483.55,72.61L485.55,76.21L481.55,76.21ZM485.75,74.38L487.75,77.98L483.75,77.98ZM487.95,73.53L489.95,77.13L485.95,77.13ZM490.15,71.9L492.15,75.5L488.15,75.5ZM492.35,73.51L494.35,77.11L490.35,77.11ZM494.55,74.65L496.55,78.25L492.55,78.25ZM496.75,72.45L498.75,76.05L494.75,76.05ZM498.95,72.08L500.95,75.68L496.95,75.68ZM501.15,74.56L503.15,78.16L499.15,78.16ZM503.35,74.01L505.35,77.61L501.35,77.61ZM505.55,71.62L507.55,75.22L503.55,75.22ZM507.75,73.09L509.75,76.69L505.75,76.69ZM509.95,75.02L511.95,78.62L507.95,78.62ZM512.15,72.79L514.15,76.39L510.15,76.39ZM514.35,71.65L516.35,75.25L512.35,75.25ZM516.55,74.33L518.55,77.93L514.55,77.93ZM518.75,74.49L520.75,78.09L516.75,78.09ZM520.95,71.75L522.95,75.35L518.95,75.35ZM523.15,72.59L525.15,76.19L521.15,76.19ZM525.35,74.99L527.35,78.59L523.35,78.59ZM527.55,73.3L529.55,76.9L525.55,76.9ZM529.75,71.57L531.75,75.17L527.75,75.17ZM531.95,73.83L533.95,77.43L529.95,77.43ZM534.15,74.67L536.15,78.27L532.15,78.27ZM536.35,72.22L538.35,75.82L534.35,75.82ZM538.55,72.3L540.55,75.9L536.55,75.9ZM540.75,74.58L542.75,78.18L538.75,78.18ZM542.95,73.67L544.95,77.27L540.95,77.27ZM545.15,71.9L547.15,75.5L543.15,75.5ZM547.35,73.37L549.35,76.97L545.35,76.97ZM549.55,74.44L551.55,78.04L547.55,78.04ZM551.75,72.73L553.75,76.33L549.75,76.33ZM553.95,72.43L555.95,76.03L551.95,76.03ZM556.15,74.03L558.15,77.63L554.15,77.63ZM558.35,73.67L560.35,77.27L556.35,77.27ZM560.55,72.46L562.55,76.06L558.55,76.06ZM562.75,73.25L564.75,76.85L560.75,76.85ZM564.95,78.87L566.95,82.47L562.95,82.47ZM567.15,82.83L569.15,86.43L565.15,86.43ZM569.35,80.19L571.35,83.79L567.35,83.79ZM571.55,84.75L573.55,88.35L569.55,88.35ZM573.75,89.91L575.75,93.51L571.75,93.51ZM575.95,85.47L577.95,89.07L573.95,89.07ZM578.15,91.83L580.15,95.43L576.15,95.43ZM580.35,89.79L582.35,93.39L578.35,93.39ZM582.55,96.15L584.55,99.75L580.55,99.75Z" fill="none" stroke="#c84848" stroke-width="1.0"/>
<path d="M418.75,73.1h2M419.75,72.2v1.8M422.38,73.1h2M423.38,72.2v1.8M426.01,73.1h2M427.01,72.2v1.8M429.64,73.1h2M430.64,72.2v1.8M433.27,73.1h2M434.27,72.2v1.8M436.9,73.1h2M437.9,72.2v1.8M440.53,73.1h2M441.53,72.2v1.8M444.16,73.1h2M445.16,72.2v1.8M447.79,73.1h2M448.79,72.2v1.8M451.42,73.1h2M452.42,72.2v1.8M455.05,73.1h2M456.05,72.2v1.8M458.68,73.1h2M459.68,72.2v1.8M462.31,73.1h2M463.31,72.2v1.8M465.94,73.1h2M466.94,72.2v1.8M469.57,73.1h2M470.57,72.2v1.8M473.2,73.1h2M474.2,72.2v1.8M476.83,73.1h2M477.83,72.2v1.8M480.46,73.1h2M481.46,72.2v1.8M484.09,73.1h2M485.09,72.2v1.8M487.72,73.1h2M488.72,72.2v1.8M491.35,73.1h2M492.35,72.2v1.8M494.98,73.1h2M495.98,72.2v1.8M498.61,73.1h2M499.61,72.2v1.8M502.24,73.1h2M503.24,72.2v1.8M505.87,73.1h2M506.87,72.2v1.8M509.5,73.1h2M510.5,72.2v1.8M513.13,73.1h2M514.13,72.2v1.8M516.76,73.1h2M517.76,72.2v1.8M520.39,73.1h2M521.39,72.2v1.8M524.02,73.1h2M525.02,72.2v1.8M527.65,73.1h2M528.65,72.2v1.8M531.28,73.1h2M532.28,72.2v1.8M534.91,73.1h2M535.91,72.2v1.8M538.54,73.1h2M539.54,72.2v1.8M542.17,73.1h2M543.17,72.2v1.8M545.8,73.1h2M546.8,72.2v1.8M549.43,73.1h2M550.43,72.2v1.8M553.06,73.1h2M554.06,72.2v1.8M556.69,73.1h2M557.69,72.2v1.8M560.32,73.1h2M561.32,72.2v1.8M563.95,73.1h2M564.95,72.2v1.8M567.58,73.1h2M568.58,72.2v1.8M571.21,73.1h2M572.21,72.2v1.8M574.84,73.1h2M575.84,72.2v1.8M578.47,73.1h2M579.47,72.2v1.8M582.1,73.1h2M583.1,72.2v1.8" stroke="#000" stroke-width="1" fill="none"/>
<path d="M417.25,73.1h5M419.75,70.1v6" stroke="#000" stroke-width="1"/>
<text transform="translate(415.6,320.3) scale(1,1.12)" text-anchor="end" font-size="15.6">0</text>
<text transform="translate(415.6,260.3) scale(1,1.12)" text-anchor="end" font-size="15.6">50</text>
<text transform="translate(415.6,200.3) scale(1,1.12)" text-anchor="end" font-size="15.6">100</text>
<text transform="translate(415.6,140.3) scale(1,1.12)" text-anchor="end" font-size="15.6">150</text>
<text transform="translate(415.6,80.3) scale(1,1.12)" text-anchor="end" font-size="15.6">200</text>
<text transform="translate(423,333.3) scale(1,1.12)" text-anchor="middle" font-size="15.6">0</text>
<text transform="translate(478,333.3) scale(1,1.12)" text-anchor="middle" font-size="15.6">50</text>
<text transform="translate(533,333.3) scale(1,1.12)" text-anchor="middle" font-size="15.6">100</text>
<text x="413.5" y="15.6" font-size="15.75">Velocity Profile (202 mm/s)</text>
<text x="500.2" y="352.5" text-anchor="middle" font-size="15.7">distance (mm)</text>
<text transform="translate(380.8,172.0) rotate(-90) scale(1.04,1)" text-anchor="middle" font-size="15.4">velocity (mm/s)</text>
<rect x="598.5" y="27.5" width="117.0" height="110.0" fill="#fff" stroke="none"/>
<line x1="598.0" y1="27.5" x2="716.0" y2="27.5" stroke="#b0b0b0"/>
<line x1="598.0" y1="137.5" x2="716.0" y2="137.5" stroke="#aaaaaa"/>
<line x1="598.5" y1="27.5" x2="598.5" y2="137.5" stroke="#b8b8b8"/>
<line x1="715.5" y1="27.5" x2="715.5" y2="137.5" stroke="#888888"/>
<path d="M628.6,40.4h2.8M630,38.8v3.2M629,39.4l2,2M631,39.4l-2,2" stroke="#222" stroke-width="0.7"/>
<text transform="translate(657.8,46.9) scale(1,1.08)" font-size="15.0">Cylinder</text>
<line x1="608" y1="61.2" x2="652.5" y2="61.2" stroke="#6262bc" stroke-width="1"/>
<rect x="627.7" y="58.900000000000006" width="4.6" height="4.6" fill="#fff" stroke="#6262bc" stroke-width="0.75"/>
<text transform="translate(657.8,67.7) scale(1,1.08)" font-size="15.0">EAM</text>
<line x1="608" y1="83.2" x2="640" y2="83.2" stroke="#7ad8a4" stroke-width="1"/>
<rect x="651.5" y="82.7" width="1" height="1" fill="#7ad8a4" opacity="0.5"/>
<circle cx="630" cy="83.2" r="2.3" fill="#fff" stroke="#7ad8a4" stroke-width="0.75"/>
<text transform="translate(657.8,89.7) scale(1,1.08)" font-size="15.0">CCM</text>
<line x1="608" y1="103.6" x2="640" y2="103.6" stroke="#d86262" stroke-width="1"/>
<rect x="651.5" y="103.1" width="1" height="1" fill="#d86262" opacity="0.5"/>
<path d="M630,101.3L632.3,105.44L627.7,105.44Z" fill="#fff" stroke="#d86262" stroke-width="0.75"/>
<text transform="translate(657.8,110.1) scale(1,1.08)" font-size="15.0">ACM</text>
<line x1="608" y1="124.7" x2="652.5" y2="124.7" stroke="#066a06" stroke-width="2.4" stroke-dasharray="7 2"/>
<text transform="translate(657.8,131.2) scale(1,1.08)" font-size="15.0">1x NL</text>
<text class="sans" transform="translate(646.4,236.0) scale(1,1.08)" font-size="16.6">(b)</text>
</svg></body></html>
